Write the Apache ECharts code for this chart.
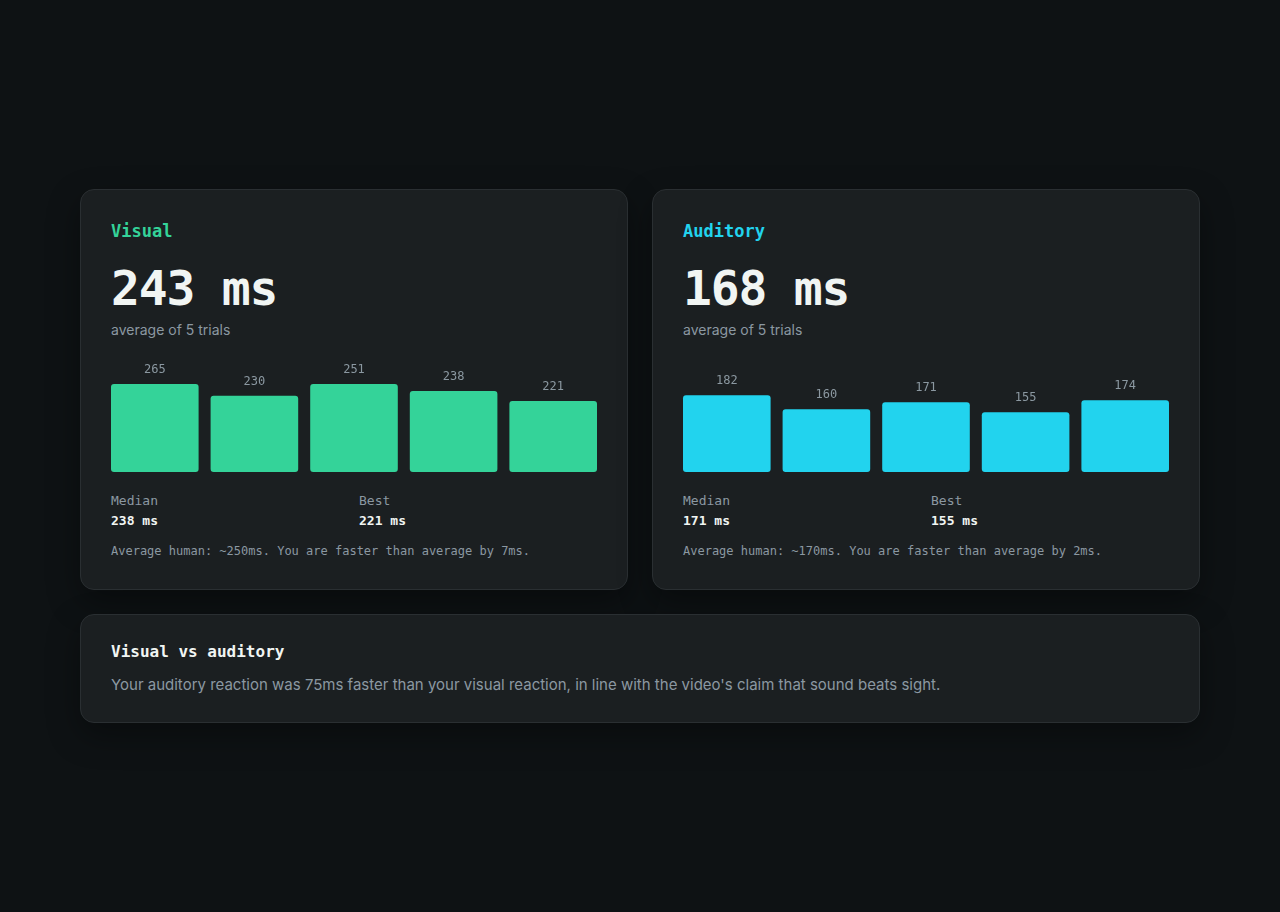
<!DOCTYPE html>
<html>
<head>
<meta charset="utf-8">
<script src="https://cdn.jsdelivr.net/npm/echarts@6/dist/echarts.min.js"></script>
<style>
  html, body { margin: 0; padding: 0; }
  body { width: 1280px; height: 912px; background: #0e1214; position: relative; overflow: hidden; }
  .card { position: absolute; box-sizing: border-box; background: #1b1f21; border: 1px solid #2a2f32; border-radius: 14px; box-shadow: 0 12px 32px rgba(0,0,0,0.35); }
  .mono { font-family: "DejaVu Sans Mono", monospace; }
  .sans { font-family: Inter, "Noto Sans", sans-serif; }
  .abs { position: absolute; left: 30px; white-space: nowrap; }
  .title { font-size: 17px; font-weight: bold; line-height: 22px; top: 30px; }
  .big { font-size: 48px; font-weight: bold; line-height: 48px; top: 74px; color: #f1f5f3; letter-spacing: -1.2px; }
  .sub { font-size: 14px; line-height: 20px; top: 130px; color: #8b98a1; }
  .chart { position: absolute; left: 24px; top: 159px; width: 498px; height: 123px; }
  .lbl { font-size: 13px; line-height: 18px; color: #8b98a1; top: 302px; }
  .val { font-size: 13px; line-height: 18px; color: #f1f5f3; font-weight: bold; top: 322px; }
  .foot { font-size: 12px; line-height: 16px; color: #8b98a1; top: 353px; }
</style>
</head>
<body>
<div id="root"></div>
<script>
// ---- data ----
const trialLabels = ["Trial 1", "Trial 2", "Trial 3", "Trial 4", "Trial 5"];
const visualTimes = [265, 230, 251, 238, 221];
const auditoryTimes = [182, 160, 171, 155, 174];
const visualAverage = 243;
const auditoryAverage = 168;
const visualMedian = 238;
const auditoryMedian = 171;
const visualBest = 221;
const auditoryBest = 155;
const visualHuman = 250;
const auditoryHuman = 170;
const visualAxisRange = [100, 250];
const auditoryAxisRange = [60, 200];
const trialCount = 5;
const summaryTitle = "Visual vs auditory";
const summaryText = "Your auditory reaction was 75ms faster than your visual reaction, in line with the video's claim that sound beats sight.";

const cards = [
  { name: "Visual", color: "#34d399", left: 80, avg: visualAverage, med: visualMedian, best: visualBest, human: visualHuman, data: visualTimes, range: visualAxisRange },
  { name: "Auditory", color: "#22d3ee", left: 652, avg: auditoryAverage, med: auditoryMedian, best: auditoryBest, human: auditoryHuman, data: auditoryTimes, range: auditoryAxisRange }
];

const root = document.getElementById("root");
cards.forEach((c, i) => {
  const el = document.createElement("div");
  el.className = "card";
  el.style.left = c.left + "px";
  el.style.top = "189px";
  el.style.width = "548px";
  el.style.height = "401px";
  el.innerHTML =
    '<div class="abs mono title" style="color:' + c.color + '">' + c.name + '</div>' +
    '<div class="abs mono big">' + c.avg + ' ms</div>' +
    '<div class="abs sans sub">average of ' + trialCount + ' trials</div>' +
    '<div class="chart" id="chart' + i + '"></div>' +
    '<div class="abs mono lbl">Median</div>' +
    '<div class="abs mono val">' + c.med + ' ms</div>' +
    '<div class="abs mono lbl" style="left:278px">Best</div>' +
    '<div class="abs mono val" style="left:278px">' + c.best + ' ms</div>' +
    '<div class="abs mono foot">Average human: ~' + c.human + 'ms. You are faster than average by ' + (c.human - c.avg) + 'ms.</div>';
  root.appendChild(el);

  const chart = echarts.init(document.getElementById("chart" + i), null, { renderer: "canvas" });
  chart.setOption({
    animation: false,
    grid: { left: 0, right: 0, top: 35, bottom: 0 },
    xAxis: { type: "category", data: trialLabels, show: false },
    yAxis: { type: "value", min: c.range[0], max: c.range[1], show: false },
    series: [{
      type: "bar",
      data: c.data,
      barWidth: 87.6,
      clip: true,
      itemStyle: { color: c.color, borderRadius: 3 },
      label: {
        show: true, position: "top", distance: 8,
        color: "#8b98a1", fontSize: 12, fontFamily: "DejaVu Sans Mono"
      }
    }]
  });
});

const s = document.createElement("div");
s.className = "card";
s.style.left = "80px";
s.style.top = "614px";
s.style.width = "1120px";
s.style.height = "109px";
s.innerHTML =
  '<div class="abs mono" style="top:26px;font-size:16px;line-height:22px;font-weight:bold;color:#f1f5f3">' + summaryTitle + '</div>' +
  '<div class="abs sans" style="top:59px;font-size:15px;line-height:22px;color:#8b98a1">' + summaryText + '</div>';
root.appendChild(s);
</script>
</body>
</html>
